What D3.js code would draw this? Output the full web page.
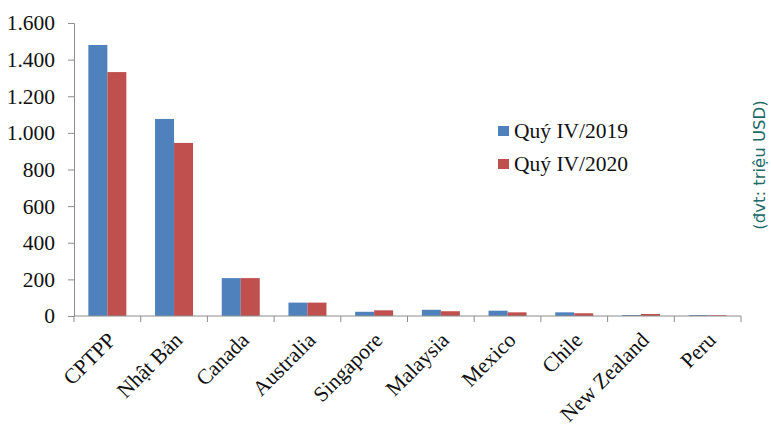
<!DOCTYPE html>
<html>
<head>
<meta charset="utf-8">
<script src="https://cdn.jsdelivr.net/npm/d3@7"></script>
<style>
  html, body { margin: 0; padding: 0; background: #fff; }
  svg { display: block; }
</style>
</head>
<body>
<svg id="chart" width="771" height="425"></svg>
<script>
// Export value by market, Q4 2019 vs Q4 2020 (million USD)
const categories = ["CPTPP", "Nhật Bản", "Canada", "Australia", "Singapore", "Malaysia", "Mexico", "Chile", "New Zealand", "Peru"];
const seriesNames = ["Quý IV/2019", "Quý IV/2020"];
const values2019 = [1480, 1076, 207, 73, 23, 34, 29, 20, 5, 5];
const values2020 = [1332, 945, 207, 73, 31, 26, 20, 15, 11, 4];
const yTicks = [0, 200, 400, 600, 800, 1000, 1200, 1400, 1600];
const unitLabel = "(đvt: triệu USD)";

const colors = ["#4F81BD", "#C0504D"];
const svg = d3.select("#chart");
const plotLeft = 74, plotRight = 741, plotTop = 23, plotBottom = 316;

const x = d3.scaleBand().domain(categories).range([plotLeft, plotRight]).paddingInner(0).paddingOuter(0);
const xs = d3.scaleBand().domain(seriesNames).range([0, x.bandwidth()]).paddingInner(0).paddingOuter(0.755);
const y = d3.scaleLinear().domain([0, 1600]).range([plotBottom, plotTop]);

const fmt = v => d3.format(",")(v).replace(/,/g, ".");
const serif = "'Liberation Serif', 'Times New Roman', serif";
const fs = 21.5;

// bars
const rows = categories.map((c, i) => ({ c, vals: [values2019[i], values2020[i]] }));
const g = svg.append("g");
rows.forEach(r => {
  r.vals.forEach((v, j) => {
    g.append("rect")
      .attr("x", x(r.c) + xs(seriesNames[j]))
      .attr("y", y(v))
      .attr("width", xs.bandwidth())
      .attr("height", y(0) - y(v))
      .attr("fill", colors[j]);
  });
});

// y axis
const yAxis = d3.axisLeft(y).tickValues(yTicks).tickSize(6).tickPadding(13).tickFormat(fmt);
const ya = svg.append("g").attr("transform", `translate(${plotLeft},0)`).call(yAxis);
ya.select(".domain").attr("stroke", "#8c8c8c");
ya.selectAll(".tick line").attr("stroke", "#8c8c8c");
ya.selectAll(".tick text").attr("font-family", serif).attr("font-size", fs).attr("fill", "#111");

// x axis with ticks at category boundaries
const xa = svg.append("g").attr("transform", `translate(0,${plotBottom})`);
xa.append("line").attr("x1", plotLeft).attr("x2", plotRight).attr("y1", 0).attr("y2", 0).attr("stroke", "#8c8c8c");
const bounds = categories.map(c => x(c)).concat([plotRight]);
xa.selectAll("line.tk").data(bounds).enter().append("line").attr("class", "tk")
  .attr("x1", d => d).attr("x2", d => d).attr("y1", 0).attr("y2", 6).attr("stroke", "#8c8c8c");
xa.selectAll("text").data(categories).enter().append("text")
  .attr("transform", d => `translate(${x(d) + x.bandwidth() / 2 + 6},${22}) rotate(-45)`)
  .attr("text-anchor", "end")
  .attr("dominant-baseline", "middle")
  .attr("font-family", serif).attr("font-size", fs).attr("fill", "#111")
  .text(d => d);

// legend
const lg = svg.append("g").attr("transform", "translate(498,126)");
seriesNames.forEach((s, i) => {
  const row = lg.append("g").attr("transform", `translate(0,${i * 33})`);
  row.append("rect").attr("width", 11).attr("height", 10).attr("fill", colors[i]);
  row.append("text").attr("x", 16).attr("y", 12).attr("font-family", serif).attr("font-size", fs).attr("fill", "#111").text(s);
});

// unit label
svg.append("text")
  .attr("transform", "translate(765,165) rotate(-90)")
  .attr("text-anchor", "middle")
  .attr("font-family", "'DejaVu Sans', sans-serif")
  .attr("font-size", 16.5)
  .attr("fill", "#1d6a6a")
  .text(unitLabel);
</script>
</body>
</html>
